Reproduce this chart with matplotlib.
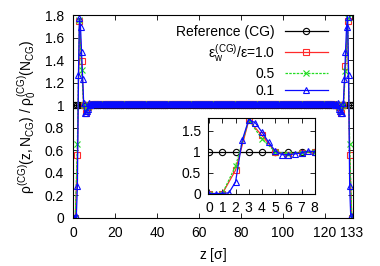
import numpy as np
import matplotlib
matplotlib.use('Agg')
import matplotlib.pyplot as plt

plt.rcParams['font.family'] = ['Liberation Sans', 'DejaVu Sans']
plt.rcParams['font.size'] = 10
plt.rcParams['mathtext.fontset'] = 'custom'
plt.rcParams['mathtext.rm'] = 'Liberation Sans'
plt.rcParams['mathtext.it'] = 'Liberation Sans'
plt.rcParams['mathtext.bf'] = 'Liberation Sans:bold'

# профиль у левой стенки (z = 0..8)
z_wall = [0, 1, 2, 3, 4, 5, 6, 7, 8]
red_left = [0, 0, 0.56, 1.75, 1.39, 1.0, 0.93, 0.98, 1.0]
green_left = [0, 0, 0.66, 1.76, 1.31, 1.0, 0.95, 0.98, 1.0]
z_wall_fine = [0, 0.5, 1, 1.5, 2, 2.5, 3, 3.5, 4, 4.5, 5, 5.5, 6, 6.5, 7, 7.5, 8]
blue_left = [0, 0, 0, 0.02, 0.28, 1.27, 1.77, 1.69, 1.47, 1.23, 1.02, 0.93,
             0.93, 0.95, 0.97, 1.02, 1.0]

# профиль у правой стенки (z = 125..133)
z_right = [125, 126, 127, 128, 129, 130, 131, 132, 133]
red_right = [1.0, 1.0, 0.98, 0.93, 1.0, 1.35, 1.75, 0.56, 0]
green_right = [1.0, 1.0, 0.98, 0.95, 1.0, 1.30, 1.77, 0.66, 0]
z_right_fine = [125, 125.5, 126, 126.5, 127, 127.5, 128, 128.5, 129, 129.5,
                130, 130.5, 131, 131.5, 132, 132.5, 133]
blue_right = [1.0, 1.01, 1.0, 1.02, 0.97, 0.95, 0.93, 0.93, 1.02, 1.23,
              1.47, 1.69, 1.78, 1.27, 0.28, 0.02, 0]

# уровень в объёме (z = 9..124)
bulk_red = 1.015
bulk_green = 1.01
bulk_blue = 1.01
bulk_ref = 1.0

z_all = np.arange(0, 134, 1.0)
z_mid = z_all[9:125]
z_mid_fine = np.arange(8.5, 125, 0.5)

z_red = np.concatenate([z_wall, z_mid, z_right])
y_red = np.concatenate([red_left, np.full(len(z_mid), bulk_red), red_right])
y_green = np.concatenate([green_left, np.full(len(z_mid), bulk_green), green_right])
z_blue = np.concatenate([z_wall_fine, z_mid_fine, z_right_fine])
y_blue = np.concatenate([blue_left, np.full(len(z_mid_fine), bulk_blue), blue_right])
y_ref = np.full(len(z_all), bulk_ref)

col_ref = 'black'
col_red = '#ff2a2a'
col_green = '#22dd22'
col_blue = '#0a0aff'
ms = 4.5

def draw(ax, zr, yr, zg, yg, zb, yb, zref, yref, labels=True):
    ax.plot(zref, yref, color=col_ref, lw=0.9, marker='o', ms=ms, mfc='none', mew=0.8,
            label='Reference (CG)' if labels else None)
    ax.plot(zr, yr, color=col_red, lw=0.9, marker='s', ms=ms, mfc='none', mew=0.8,
            label=r'$\varepsilon_\mathrm{w}^{(CG)}/\varepsilon$=1.0' if labels else None)
    ax.plot(zg, yg, color=col_green, lw=0.9, ls=(0, (2, 1)), marker='x', ms=ms, mew=0.8,
            label='0.5' if labels else None)
    ax.plot(zb, yb, color=col_blue, lw=0.9, marker='^', ms=ms, mfc='none', mew=0.8,
            label='0.1' if labels else None)

fig = plt.figure(figsize=(3.8, 2.66), dpi=100)
ax = fig.add_axes([0.191, 0.1805, 0.738, 0.763])
draw(ax, z_red, y_red, z_red, y_green, z_blue, y_blue, z_all, y_ref)
ax.set_xlim(-0.3, 133.6)
ax.set_ylim(0, 1.8)
ax.set_xticks([0, 20, 40, 60, 80, 100, 120, 133])
ax.set_yticks(np.arange(0, 1.81, 0.2))
ax.set_yticklabels(['%g' % round(v, 1) for v in np.arange(0, 1.81, 0.2)])
ax.tick_params(direction='in', top=True, right=True, length=3.5, width=0.6, pad=6)
ax.set_xlabel(r'z [$\sigma$]', labelpad=4)
ax.set_ylabel(r'$\rho^{(CG)}(z,N_{CG})\ /\ \rho_0^{(CG)}(N_{CG})$', labelpad=4)
for s in ax.spines.values():
    s.set_linewidth(0.8)

leg = ax.legend(loc='upper right', bbox_to_anchor=(0.93, 0.98), frameon=False,
                markerfirst=False, handlelength=3.1, handletextpad=0.7,
                labelspacing=0.22, borderaxespad=0)
for vp in leg._legend_handle_box.get_children():
    vp.align = 'right'

ins = fig.add_axes([0.547, 0.2707, 0.283, 0.2846])
draw(ins, z_wall, red_left, z_wall, green_left, z_wall_fine, blue_left,
     z_wall, np.full(len(z_wall), bulk_ref), labels=False)
ins.set_xlim(-0.1, 8.05)
ins.set_ylim(-0.01, 1.8)
ins.set_xticks(range(0, 9))
ins.set_yticks([0, 0.5, 1, 1.5])
ins.set_yticklabels(['0', '0.5', '1', '1.5'])
ins.tick_params(direction='in', top=True, right=True, length=3.5, width=0.6, pad=5)
for s in ins.spines.values():
    s.set_linewidth(0.8)

fig.savefig('out.png', dpi=100)
